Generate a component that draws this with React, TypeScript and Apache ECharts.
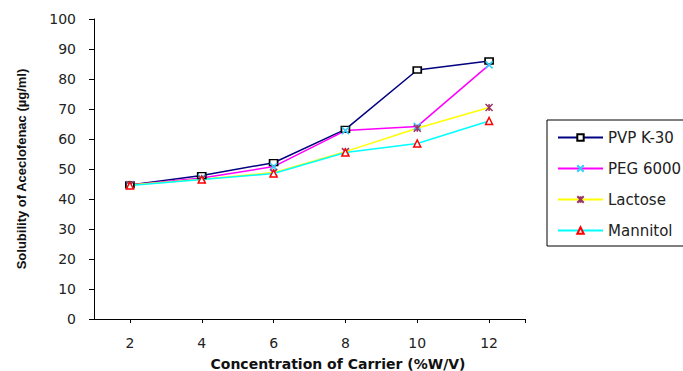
import React, { useEffect, useRef } from "react";
import * as echarts from "echarts";

const concentrations = [2, 4, 6, 8, 10, 12];
const pvpK30 = [44.7, 47.8, 52.1, 63.2, 83.0, 86.0];
const peg6000 = [44.7, 47.0, 50.8, 62.8, 64.2, 84.7];
const lactose = [44.7, 46.6, 48.8, 55.8, 63.6, 70.5];
const mannitol = [44.5, 46.5, 48.5, 55.5, 58.5, 66.0];
const yTicks = [0, 10, 20, 30, 40, 50, 60, 70, 80, 90, 100];

const pair = (vals: number[]) => concentrations.map((c, i) => [c, vals[i]]);

export default function App() {
  const ref = useRef<HTMLDivElement>(null);
  useEffect(() => {
    if (!ref.current) return;
    const chart = echarts.init(ref.current, undefined, { renderer: "svg" });
    const labelFont = {
      fontFamily: "DejaVu Sans",
      fontSize: 14,
      color: "#222",
    };
    chart.setOption({
      animation: false,
      backgroundColor: "#fff",
      grid: {
        left: 94,
        top: 19,
        width: 431,
        height: 300,
        containLabel: false,
        outerBoundsMode: "none",
      },
      xAxis: {
        type: "value",
        min: 1,
        max: 13,
        splitLine: { show: false },
        axisLine: { lineStyle: { color: "#000", width: 1 } },
        axisTick: {
          customValues: [...concentrations, 13],
          length: 4,
          lineStyle: { color: "#000" },
        },
        axisLabel: { customValues: concentrations, margin: 17, ...labelFont },
        name: "Concentration of Carrier (%W/V)",
        nameLocation: "middle",
        nameGap: 38,
        nameTextStyle: {
          fontFamily: "DejaVu Sans",
          fontWeight: "bold",
          fontSize: 14,
          color: "#111",
          padding: [0, 0, 0, 57],
        },
      },
      yAxis: {
        type: "value",
        min: 0,
        max: 100,
        interval: 10,
        splitLine: { show: false },
        axisLine: { show: true, lineStyle: { color: "#000", width: 1 } },
        axisTick: { show: true, length: 5, lineStyle: { color: "#000" } },
        axisLabel: {
          margin: 18,
          ...labelFont,
          formatter: (v: number) => (yTicks.includes(v) ? String(v) : ""),
        },
        name: "Solubility of Aceclofenac (µg/ml)",
        nameLocation: "middle",
        nameGap: 66,
        nameTextStyle: {
          fontFamily: "Liberation Sans",
          fontWeight: "bold",
          fontSize: 13,
          color: "#111",
        },
      },
      legend: {
        orient: "vertical",
        left: 547,
        top: 120,
        itemWidth: 45,
        itemHeight: 8,
        itemGap: 16,
        padding: [10, 40, 8, 10],
        borderColor: "#000",
        borderWidth: 1,
        textStyle: { fontFamily: "DejaVu Sans", fontSize: 15, color: "#222" },
        data: ["PVP K-30", "PEG 6000", "Lactose", "Mannitol"],
      },
      series: [
        {
          name: "PVP K-30",
          type: "line",
          data: pair(pvpK30),
          symbol: "rect",
          symbolSize: [8, 6],
          lineStyle: { color: "#000080", width: 1.5 },
          itemStyle: { color: "#fff", borderColor: "#000", borderWidth: 1.5 },
        },
        {
          name: "PEG 6000",
          type: "line",
          data: pair(peg6000),
          symbol: "path://M0,0L10,10M10,0L0,10",
          symbolSize: 7,
          lineStyle: { color: "#ff00ff", width: 1.5 },
          itemStyle: { color: "#33ccff", borderColor: "#33ccff", borderWidth: 1.5 },
        },
        {
          name: "Lactose",
          type: "line",
          data: pair(lactose),
          symbol: "path://M0,0L10,10M10,0L0,10M5,0L5,10",
          symbolSize: 7,
          lineStyle: { color: "#ffff00", width: 1.5 },
          itemStyle: { color: "#993366", borderColor: "#993366", borderWidth: 1.5 },
        },
        {
          name: "Mannitol",
          type: "line",
          data: pair(mannitol),
          symbol: "triangle",
          symbolSize: 7,
          lineStyle: { color: "#00ffff", width: 1.5 },
          itemStyle: { color: "#fff", borderColor: "#ff0000", borderWidth: 1.5 },
        },
      ],
    });
    return () => chart.dispose();
  }, []);
  return (
    <div
      ref={ref}
      style={{ position: "fixed", left: 0, top: 0, width: 683, height: 371, background: "#fff" }}
    />
  );
}
